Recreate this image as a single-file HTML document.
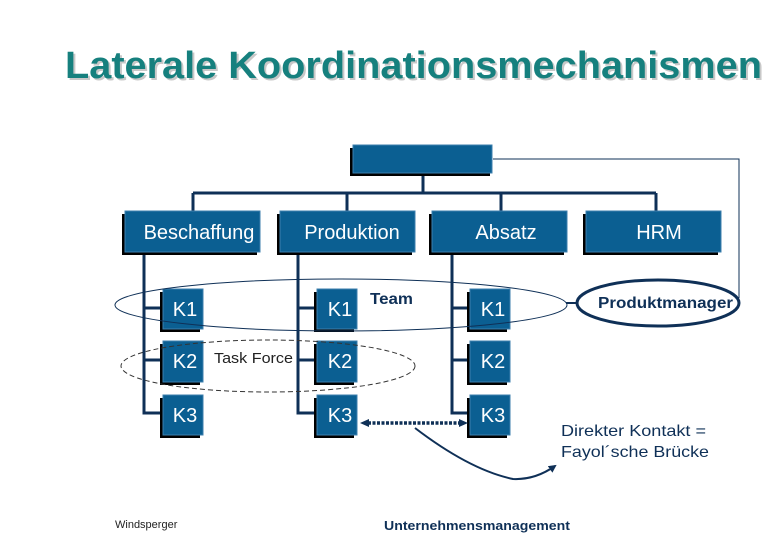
<!DOCTYPE html>
<html><head><meta charset="utf-8"><style>
html,body{margin:0;padding:0;background:#fff;}
svg{display:block;font-family:"Liberation Sans",Arial,sans-serif;}
</style></head><body>
<svg width="780" height="540" viewBox="0 0 780 540" xmlns="http://www.w3.org/2000/svg">
<defs>
<marker id="ah" markerWidth="8" markerHeight="8" refX="6" refY="4" orient="auto" markerUnits="userSpaceOnUse"><path d="M0,0 L8,4 L0,8 z" fill="#0f3057"/></marker>
</defs>
<text x="67" y="80" font-size="38" font-weight="bold" fill="#c8c8c8" textLength="697" lengthAdjust="spacingAndGlyphs">Laterale Koordinationsmechanismen</text>
<text x="65" y="78" font-size="38" font-weight="bold" fill="#16807e" textLength="697" lengthAdjust="spacingAndGlyphs">Laterale Koordinationsmechanismen</text>

<g stroke="#0f3057" stroke-width="3" fill="none">
<line x1="423" y1="174" x2="423" y2="193"/>
<line x1="193" y1="193" x2="656" y2="193"/>
<line x1="193" y1="193" x2="193" y2="211"/>
<line x1="347" y1="193" x2="347" y2="211"/>
<line x1="501" y1="193" x2="501" y2="211"/>
<line x1="656" y1="193" x2="656" y2="211"/>
<polyline points="163,308 144,308 144,252 144,413 163,413"/><line x1="144" y1="360" x2="163" y2="360"/>
<polyline points="317,308 298,308 298,252 298,413 317,413"/><line x1="298" y1="360" x2="317" y2="360"/>
<polyline points="470,308 452,308 452,252 452,413 470,413"/><line x1="452" y1="360" x2="470" y2="360"/>
</g>
<polyline points="493,159 739,159 739,298" fill="none" stroke="#0f3057" stroke-width="1"/>

<g fill="#000">
<rect x="350" y="148" width="140" height="28"/>
<rect x="122" y="214" width="135" height="41"/>
<rect x="277" y="214" width="135" height="41"/>
<rect x="429" y="214" width="135" height="41"/>
<rect x="583" y="214" width="135" height="41"/>
<rect x="160" y="292" width="40" height="40"/><rect x="160" y="344" width="40" height="41"/><rect x="160" y="398" width="40" height="40"/>
<rect x="314" y="292" width="40" height="40"/><rect x="314" y="344" width="40" height="41"/><rect x="314" y="398" width="40" height="40"/>
<rect x="467" y="292" width="40" height="40"/><rect x="467" y="344" width="40" height="41"/><rect x="467" y="398" width="40" height="40"/>
</g>
<g fill="#0b5f92" stroke="#3d7fae" stroke-width="1">
<rect x="353" y="145" width="139" height="28"/>
<rect x="125" y="211" width="135" height="41"/>
<rect x="280" y="211" width="135" height="41"/>
<rect x="432" y="211" width="135" height="41"/>
<rect x="586" y="211" width="135" height="41"/>
<rect x="163" y="289" width="40" height="40"/><rect x="163" y="341" width="40" height="41"/><rect x="163" y="395" width="40" height="40"/>
<rect x="317" y="289" width="40" height="40"/><rect x="317" y="341" width="40" height="41"/><rect x="317" y="395" width="40" height="40"/>
<rect x="470" y="289" width="40" height="40"/><rect x="470" y="341" width="40" height="41"/><rect x="470" y="395" width="40" height="40"/>
</g>
<g fill="#fff" font-size="20" text-anchor="middle">
<text x="199" y="239">Beschaffung</text>
<text x="352" y="239">Produktion</text>
<text x="506" y="239">Absatz</text>
<text x="659" y="239">HRM</text>
<text x="185" y="316">K1</text><text x="185" y="368">K2</text><text x="185" y="422">K3</text>
<text x="340" y="316">K1</text><text x="340" y="368">K2</text><text x="340" y="422">K3</text>
<text x="493" y="316">K1</text><text x="493" y="368">K2</text><text x="493" y="422">K3</text>
</g>

<ellipse cx="341" cy="305" rx="226" ry="26" fill="none" stroke="#0f3057" stroke-width="1"/>
<line x1="566" y1="303" x2="578" y2="303" stroke="#0f3057" stroke-width="2"/>
<ellipse cx="658" cy="303" rx="81" ry="23" fill="#fff" stroke="#0f3057" stroke-width="3"/>
<text x="598" y="308" font-size="16" font-weight="bold" fill="#0f3057" textLength="135" lengthAdjust="spacingAndGlyphs">Produktmanager</text>
<ellipse cx="268" cy="366" rx="147" ry="26" fill="none" stroke="#333" stroke-width="1" stroke-dasharray="5,3"/>
<text x="214" y="363" font-size="15" fill="#222" textLength="79" lengthAdjust="spacingAndGlyphs">Task Force</text>
<text x="370" y="304" font-size="16" font-weight="bold" fill="#0f3057" textLength="43" lengthAdjust="spacingAndGlyphs">Team</text>

<line x1="368" y1="423" x2="460" y2="423" stroke="#0f3057" stroke-width="3.5" stroke-dasharray="3,1.5"/>
<path d="M360,423 L369,419 L369,427 z" fill="#0f3057"/>
<path d="M468,423 L459,419 L459,427 z" fill="#0f3057"/>
<path d="M415,428 Q470,470 513,479 Q535,480 555,466" fill="none" stroke="#0f3057" stroke-width="2" marker-end="url(#ah)"/>

<text x="561" y="436" font-size="16" fill="#0f3057" textLength="145" lengthAdjust="spacingAndGlyphs">Direkter Kontakt =</text>
<text x="561" y="457" font-size="16" fill="#0f3057" textLength="148" lengthAdjust="spacingAndGlyphs">Fayol´sche Brücke</text>
<text x="384" y="530" font-size="13" font-weight="bold" fill="#0f3057" textLength="186" lengthAdjust="spacingAndGlyphs">Unternehmensmanagement</text>
<text x="115" y="528" font-size="11" fill="#222">Windsperger</text>
</svg>
</body></html>
